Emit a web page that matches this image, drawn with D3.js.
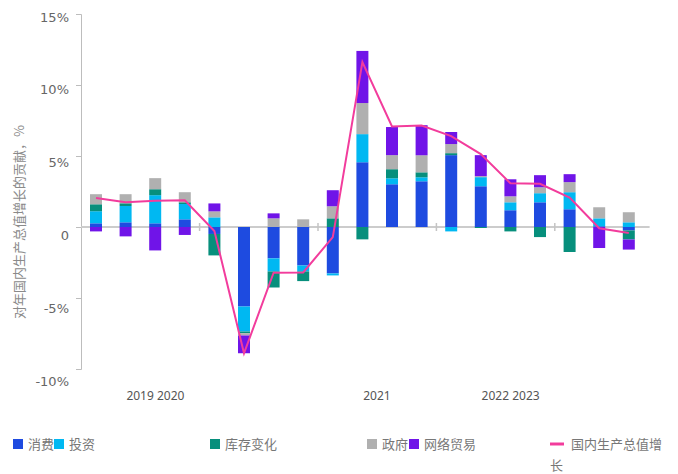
<!DOCTYPE html>
<html lang="zh">

<head>
    <meta charset="utf-8">
    <title>GDP contributions</title>
    <script src="https://d3js.org/d3.v7.min.js"></script>
    <style>
        body { margin: 0; background: #fff; }
        text { font-family: "Noto Sans", "Noto Sans CJK SC", sans-serif; }
    </style>
</head>

<body>
<div id="chart"></div>

<script>
    // quarters 2019Q1 .. 2023Q3
    var quarters = ["2019Q1", "2019Q2", "2019Q3", "2019Q4",
        "2020Q1", "2020Q2", "2020Q3", "2020Q4",
        "2021Q1", "2021Q2", "2021Q3", "2021Q4",
        "2022Q1", "2022Q2", "2022Q3", "2022Q4",
        "2023Q1", "2023Q2", "2023Q3"];

    var seriesNames = ["消费", "投资", "库存变化", "政府", "网络贸易"];
    var seriesColors = ["#1e4be0", "#00b8f2", "#078f7c", "#b0b0b0", "#7014e8"];

    // contributions, percentage points
    var consumption = [0.26, 0.33, 0.26, 0.54, -0.49, -5.6, -2.21, -2.71, -3.27, 4.56, 3.01, 3.22, 5.06, 2.87, 1.18, 1.74, 1.25, 0.05, -0.24];
    var investment = [0.85, 1.15, 1.98, 1.08, 0.68, -1.76, -0.92, -0.42, -0.14, 1.98, 0.42, 0.28, -0.31, 0.64, 0.56, 0.64, 1.2, 0.56, 0.33];
    var inventory = [0.49, 0.19, 0.42, 0.12, -1.51, -0.12, -1.13, -0.68, 0.61, -0.87, 0.64, 0.35, 0.14, -0.07, -0.31, -0.71, -1.76, 0, -0.64];
    var government = [0.71, 0.64, 0.78, 0.71, 0.42, -0.16, 0.61, 0.54, 0.85, 2.19, 0.99, 1.2, 0.64, 0.07, 0.42, 0.42, 0.71, 0.78, 0.71];
    var netTrade = [-0.31, -0.66, -1.65, -0.56, 0.56, -1.25, 0.35, 0, 1.13, 3.67, 1.98, 2.12, 0.85, 1.48, 1.2, 0.85, 0.56, -1.48, -0.71];

    // GDP growth line
    var gdpName = "国内生产总值增长";
    var gdpGrowth = [2.05, 1.74, 1.84, 1.88, -0.28, -8.89, -3.22, -3.2, -0.71, 11.62, 7.08, 7.15, 6.4, 5.13, 3.08, 3.04, 2.07, -0.09, -0.42];

    // y ticks and x labels
    var yTicks = [15, 10, 5, 0, -5, -10];
    var yTitle = "对年国内生产总值增长的贡献，%";
    var yearLabels = ["2019 2020", "2021", "2022 2023"];
    var yearLabelSpan = [["2019Q1", "2019Q4"], ["2021Q1", "2021Q4"], ["2022Q1", "2022Q4"]];
    var yearBreaks = ["2020Q1", "2021Q1", "2022Q1", "2023Q1"];

    var width = 678, height = 474;

    var svg = d3.select("#chart")
        .append("svg")
        .attr("width", width)
        .attr("height", height);

    // scales
    var x = d3.scaleBand()
        .domain(quarters)
        .range([81.2, 643.6])
        .paddingInner(0.595)
        .paddingOuter(0.2975);

    var y = d3.scaleLinear()
        .domain([-10, 15])
        .range([369, 14]);

    // tick labels sit a little lower than their ticks in the original
    var yLabel = d3.scaleLinear()
        .domain([-10, 15])
        .range([381, 17]);

    // stacked data, positives up and negatives down
    var rows = quarters.map(function (q, i) {
        return {
            q: q,
            "消费": consumption[i],
            "投资": investment[i],
            "库存变化": inventory[i],
            "政府": government[i],
            "网络贸易": netTrade[i]
        };
    });
    var stacked = d3.stack()
        .keys(seriesNames)
        .offset(d3.stackOffsetDiverging)(rows);

    // y axis
    var yAxis = svg.append("g")
        .attr("transform", "translate(81,0)")
        .call(d3.axisLeft(y)
            .tickValues(yTicks)
            .tickSize(5)
            .tickPadding(7)
            .tickFormat(function (d) { return d === 0 ? "0" : d + "%"; }));
    yAxis.select(".domain").attr("stroke", "#bdbdbd");
    yAxis.selectAll(".tick line").attr("stroke", "#bdbdbd");
    yAxis.selectAll(".tick text")
        .attr("fill", "#666")
        .style("font-family", "'DejaVu Sans', sans-serif")
        .style("font-size", "13px")
        .attr("y", function (d) { return yLabel(d) - y(d); });

    // y title
    svg.append("text")
        .attr("transform", "translate(24," + 222 + ") rotate(-90)")
        .attr("text-anchor", "middle")
        .attr("fill", "#8a8a8a")
        .style("font-size", "13px")
        .style("font-family", "'Noto Sans CJK SC', sans-serif")
        .text(yTitle);

    // zero line
    svg.append("line")
        .attr("x1", 81)
        .attr("x2", x.range()[1] + 6)
        .attr("y1", y(0))
        .attr("y2", y(0))
        .attr("stroke", "#cccccc")
        .attr("stroke-width", 2);

    // small year separators on the zero line
    svg.selectAll(".sep")
        .data(yearBreaks)
        .enter()
        .append("line")
        .attr("class", "sep")
        .attr("x1", function (d) { return x(d) - x.step() * x.paddingInner() / 2; })
        .attr("x2", function (d) { return x(d) - x.step() * x.paddingInner() / 2; })
        .attr("y1", y(0) - 4)
        .attr("y2", y(0) + 4)
        .attr("stroke", "#c4c4c4")
        .attr("stroke-width", 1.5);

    // bars
    svg.selectAll(".series")
        .data(stacked)
        .enter()
        .append("g")
        .attr("class", "series")
        .attr("fill", function (d, i) { return seriesColors[i]; })
        .selectAll("rect")
        .data(function (d) { return d; })
        .enter()
        .append("rect")
        .attr("x", function (d) { return x(d.data.q); })
        .attr("y", function (d) { return y(d[1]); })
        .attr("width", x.bandwidth())
        .attr("height", function (d) { return Math.abs(y(d[0]) - y(d[1])); });

    // GDP line
    var line = d3.line()
        .x(function (d, i) { return x(quarters[i]) + x.bandwidth() / 2; })
        .y(function (d) { return y(d); });

    svg.append("path")
        .datum(gdpGrowth)
        .attr("d", line)
        .attr("fill", "none")
        .attr("stroke", "#f23c9c")
        .attr("stroke-width", 2);

    // x labels
    svg.selectAll(".year")
        .data(yearLabels)
        .enter()
        .append("text")
        .attr("class", "year")
        .attr("x", function (d, i) {
            var a = x(yearLabelSpan[i][0]), b = x(yearLabelSpan[i][1]);
            return (a + b) / 2 + x.bandwidth() / 2 - 14;
        })
        .attr("y", 400)
        .attr("fill", "#555")
        .style("font-size", "12px")
        .text(function (d) { return d; });

    // legend
    var legendX = [13, 54, 210, 367, 409];
    var legend = svg.selectAll(".legend")
        .data(seriesNames)
        .enter()
        .append("g")
        .attr("class", "legend")
        .attr("transform", function (d, i) { return "translate(" + legendX[i] + ",439)"; });
    legend.append("rect")
        .attr("width", 10)
        .attr("height", 10)
        .attr("fill", function (d, i) { return seriesColors[i]; });
    legend.append("text")
        .attr("x", 15)
        .attr("y", 10)
        .attr("fill", "#777")
        .style("font-size", "13px")
        .text(function (d) { return d; });

    var gdpLegend = svg.append("g").attr("transform", "translate(550,439)");
    gdpLegend.append("line")
        .attr("x1", 0).attr("x2", 14)
        .attr("y1", 5).attr("y2", 5)
        .attr("stroke", "#f23c9c")
        .attr("stroke-width", 3);
    gdpLegend.append("text")
        .attr("x", 21)
        .attr("y", 10)
        .attr("fill", "#777")
        .style("font-size", "13px")
        .text(gdpName.slice(0, 7));
    gdpLegend.append("text")
        .attr("x", 0)
        .attr("y", 31)
        .attr("fill", "#777")
        .style("font-size", "13px")
        .text(gdpName.slice(7));
</script>
</body>

</html>
